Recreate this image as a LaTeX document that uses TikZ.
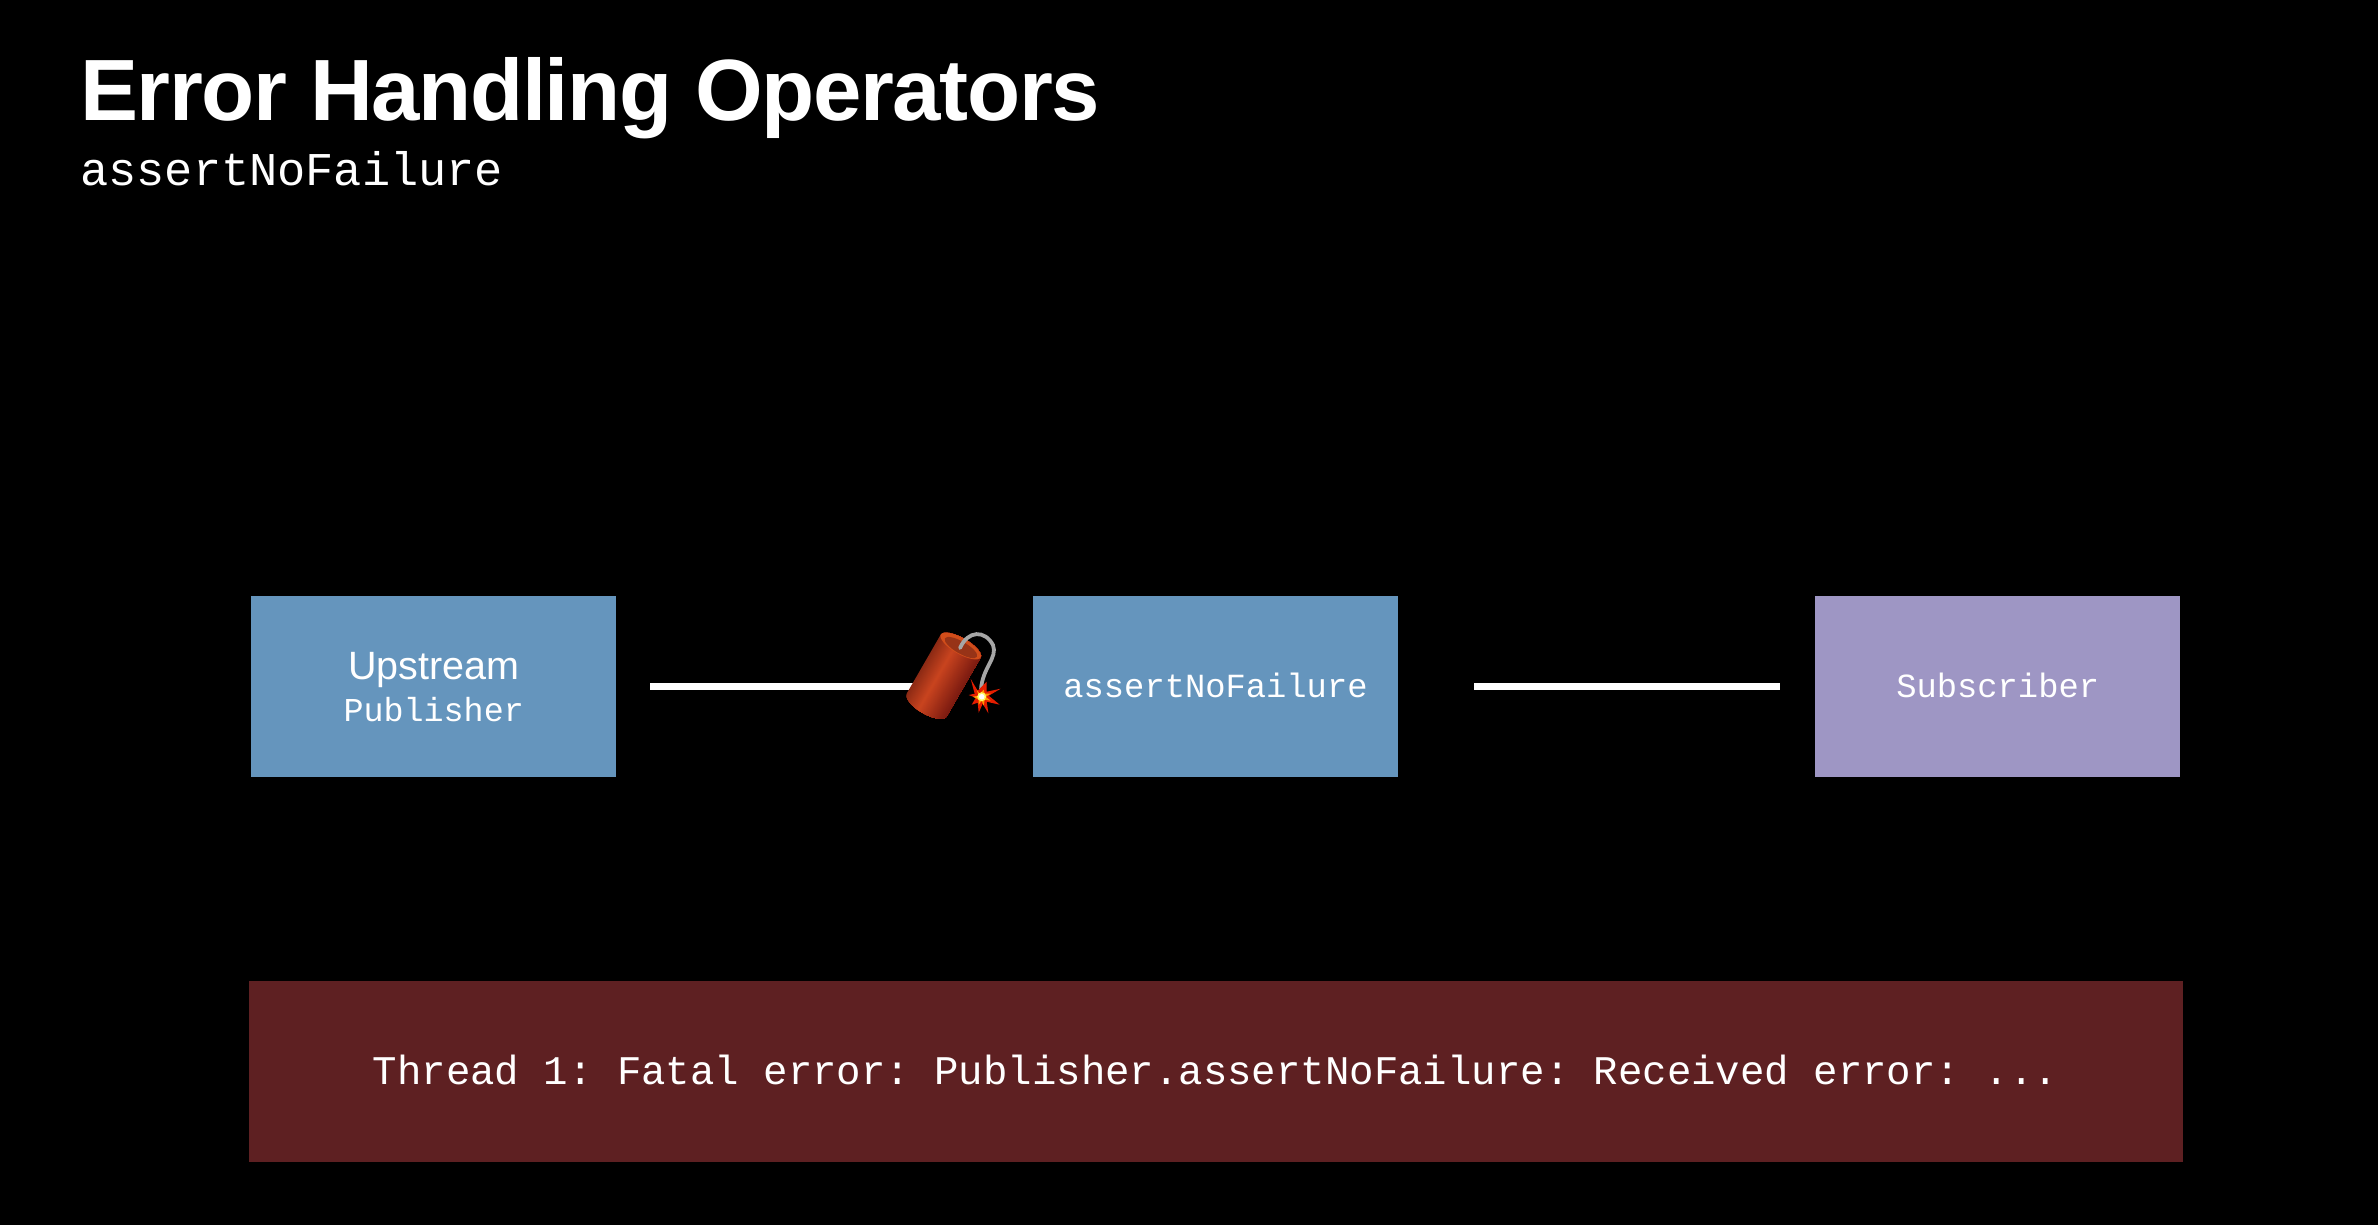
\documentclass[tikz,border=0pt]{standalone}
\usepackage{fontspec}
\setmainfont{Liberation Sans}
\newfontfamily\monof{Liberation Mono}
\newfontfamily\titlef[LetterSpace=-1.6]{Liberation Sans}
\frenchspacing
\definecolor{boxblue}{HTML}{6595BD}
\definecolor{boxpurple}{HTML}{9E96C4}
\definecolor{boxred}{HTML}{5E2022}
\definecolor{dynA}{HTML}{8C2A14}
\definecolor{dynB}{HTML}{C9441F}
\definecolor{dynC}{HTML}{7A1A10}
\tikzset{
  x=1pt,y=-1pt,
  opbox/.style={rectangle,minimum width=365pt,minimum height=181.5pt,inner sep=0pt,text=white,align=center},
  link/.style={draw=white,line width=6.5pt},
  mono/.style={font=\monof\fontsize{33.8}{40}\selectfont},
}
\begin{document}
\begin{tikzpicture}
\useasboundingbox (0,0) rectangle (2378,1224);
\fill[black] (-5,-5) rectangle (2383,1229);
\node[anchor=base west,inner sep=0pt,text=white,font=\titlef\bfseries\fontsize{87}{90}\selectfont] (title) at (80,120.7) {Error Handling Operators};
\node[anchor=base west,inner sep=0pt,text=white,font=\monof\fontsize{47}{50}\selectfont] (subtitle) at (80,185) {assertNoFailure};
\node[opbox,fill=boxblue] (up) at (433.7,686.7) {\fontsize{39.5}{44}\selectfont Upstream\\[8.5pt]{\monof\fontsize{33.4}{40}\selectfont Publisher}};
\node[opbox,fill=boxblue,mono] (assert) at (1215.5,686.7) {\raisebox{3pt}{assertNoFailure}};
\node[opbox,fill=boxpurple,mono] (sub) at (1997.7,686.7) {\raisebox{3pt}{Subscriber}};
\node[rectangle,fill=boxred,minimum width=1934pt,minimum height=181pt,inner sep=0pt,text=white,font=\monof\fontsize{40.7}{46}\selectfont] (err) at (1215.5,1071.5) {\raisebox{3pt}{Thread 1: Fatal error: Publisher.assertNoFailure: Received error: ...}};
\coordinate (dyn) at (925,686.7);
\draw[link,shorten <=34pt] (up.east) -- (dyn);
\draw[link,shorten <=76pt,shorten >=35pt] (assert.east) -- (sub.west);
% dynamite
\begin{scope}[shift={(960.7,646)},rotate=-30]
\begin{scope}
\clip (-23,0) -- (-23,68) arc[start angle=180,end angle=0,x radius=23,y radius=9] -- (23,0) arc[start angle=0,end angle=180,x radius=23,y radius=-8] -- cycle;
\foreach \i in {0,...,18}{\pgfmathsetmacro\t{100*\i/18}\fill[dynB!\t!dynA] (-23+\i,-12) rectangle (24,90);}
\foreach \i in {19,...,46}{\pgfmathsetmacro\t{100*(\i-18)/28}\fill[dynC!\t!dynB] (-23+\i,-12) rectangle (24,90);}
\end{scope}
\fill[dynB!85!orange] (0,0) ellipse[x radius=23,y radius=8];
\fill[dynB!75!black] (1,1.2) ellipse[x radius=18.5,y radius=6];
\end{scope}
\draw[line width=3.8pt,draw=black!35!white,line cap=round] (960,648) .. controls (968,630) and (985,630) .. (993,645) .. controls (998,658) and (982,668) .. (981,690);
\begin{scope}[shift={(981.7,696.7)}]
\fill[red!75!orange!90!black] (-11,-17.7) -- (-4,-6) -- (5,-15) -- (5,-5) -- (19,-8) -- (7,-1) -- (18,8) -- (5,5) -- (6.7,16.7) -- (1,7) -- (-3,16) -- (-4,6) -- (-10,8) -- (-6,1) -- (-13,-1.7) -- (-7,-3) -- cycle;
\fill[orange!80!yellow] (-5,-7) -- (-2,-3) -- (2,-7) -- (3,-3) -- (9,-3) -- (4,0) -- (9,4) -- (3,3) -- (2,9) -- (0,4) -- (-3,8) -- (-3,3) -- (-9,0) -- (-3,-1) -- cycle;
\fill[yellow!60!white] (0,0) circle[radius=4.5];
\fill[white] (0,0) circle[radius=2.8];
\end{scope}
\end{tikzpicture}
\end{document}
